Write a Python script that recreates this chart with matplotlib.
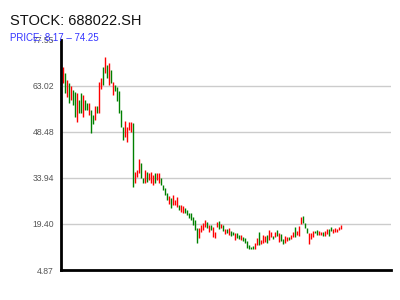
import numpy as np
import matplotlib
matplotlib.use("Agg")
import matplotlib.pyplot as plt

code = "688022.SH"
price_low = 8.17
price_high = 74.25

opens = [63.96, 67.12, 59.54, 63.96, 58.59, 61.75, 61.12, 51.64, 58.59, 60.80,
         53.22, 58.59, 57.64, 53.85, 55.43, 53.85, 52.27, 56.69, 54.48, 62.07,
         69.02, 67.12, 69.65, 63.33, 68.07, 60.17, 63.33, 62.70, 61.43, 55.43,
         50.06, 46.90, 45.32, 49.11, 48.48, 51.32, 32.36, 34.26, 35.52, 38.68,
         33.94, 32.36, 35.84, 33.31, 32.36, 31.73, 35.52, 33.31, 32.36, 33.94,
         31.73, 30.78, 29.20, 25.73, 27.62, 25.41, 25.41, 24.78, 25.41, 23.20,
         22.88, 24.46, 23.83, 22.88, 22.88, 21.62, 20.67, 18.14, 14.98, 16.88,
         17.51, 18.46, 20.04, 16.88, 19.09, 15.30, 14.98, 18.46, 20.35, 18.14,
         19.09, 16.25, 17.83, 15.93, 17.19, 16.88, 14.35, 16.56, 15.93, 14.35,
         15.30, 14.98, 14.03, 12.77, 12.14, 12.45, 11.51, 12.77, 16.88, 13.09,
         13.40, 13.72, 15.93, 14.35, 15.30, 15.61, 15.30, 17.51, 13.72, 16.25,
         14.67, 13.40, 14.03, 15.30, 14.67, 15.30, 18.46, 15.93, 15.61, 19.41,
         21.93, 19.72, 18.14, 13.09, 14.67, 15.30, 17.19, 17.51, 15.93, 15.93,
         16.88, 15.61, 16.25, 17.83, 18.46, 16.56, 16.88, 16.88, 17.51, 17.83]
closes = [69.02, 60.80, 64.91, 57.64, 63.01, 57.01, 53.22, 60.80, 54.48, 54.48,
          60.17, 55.43, 55.43, 57.64, 48.16, 51.01, 56.69, 54.48, 64.28, 65.54,
          63.33, 72.18, 65.54, 70.28, 63.96, 64.28, 61.43, 58.27, 54.48, 50.06,
          45.95, 51.95, 50.06, 51.64, 51.64, 31.10, 35.84, 36.47, 39.95, 33.94,
          32.36, 36.47, 32.68, 35.52, 35.84, 34.89, 32.36, 35.52, 35.52, 31.73,
          30.15, 28.57, 26.99, 28.25, 24.46, 28.57, 26.99, 27.94, 23.83, 25.41,
          25.09, 22.88, 22.25, 21.30, 20.67, 19.09, 17.51, 13.40, 18.14, 19.09,
          19.72, 20.67, 18.14, 19.09, 17.51, 18.46, 16.88, 20.04, 17.83, 19.41,
          17.19, 17.83, 16.56, 18.14, 15.61, 15.93, 16.56, 14.98, 14.67, 15.93,
          14.03, 13.40, 11.82, 11.51, 11.51, 11.51, 13.40, 14.98, 12.77, 14.35,
          15.93, 15.61, 13.40, 17.51, 16.88, 14.67, 16.88, 15.61, 16.56, 14.03,
          13.09, 15.61, 15.30, 14.35, 15.93, 16.88, 15.30, 17.19, 18.77, 21.62,
          19.72, 18.14, 16.56, 16.56, 16.56, 17.19, 16.56, 15.93, 17.19, 16.88,
          15.61, 17.19, 17.83, 15.61, 17.19, 17.83, 18.14, 17.83, 18.46, 19.09]

opens = np.array(opens)
closes = np.array(closes)
x = np.arange(len(opens))
up = closes >= opens

fig = plt.figure(figsize=(4, 3), dpi=100)
ax = fig.add_axes([0.1525, 0.1, 0.825, 0.7667])

pad = 0.05 * (price_high - price_low)
y0, y1 = price_low - pad, price_high + pad
ticks = np.linspace(y0, y1, 6)

# grid only on the inner ticks
for t in ticks[1:-1]:
    ax.axhline(t, color="#cccccc", lw=1, zorder=0)

ax.vlines(x[up], opens[up], closes[up], color="#ff0000", lw=1.0)
ax.vlines(x[~up], opens[~up], closes[~up], color="#008000", lw=1.0)

ax.set_xlim(-1, 164)
ax.set_ylim(y0, y1)
ax.set_yticks(ticks)
ax.set_yticklabels([f"{t:.2f}" for t in ticks], fontsize=6.2, color="#555555",
                   family="Liberation Sans")
ax.tick_params(axis="y", length=0, pad=5)
ax.set_xticks([])
for s in ["top", "right"]:
    ax.spines[s].set_visible(False)
ax.spines["left"].set_linewidth(2)
ax.spines["bottom"].set_linewidth(2)

fig.text(0.025, 1 - 25 / 300, f"STOCK: {code}", fontsize=10.5, family="Liberation Sans",
         color="#111111", va="baseline")
fig.text(0.025, 1 - 41 / 300, f"PRICE: {price_low:.2f} \u2013 {price_high:.2f}", fontsize=7,
         family="Liberation Sans", color="#3333ff", va="baseline")

fig.savefig("out.png", dpi=100)
